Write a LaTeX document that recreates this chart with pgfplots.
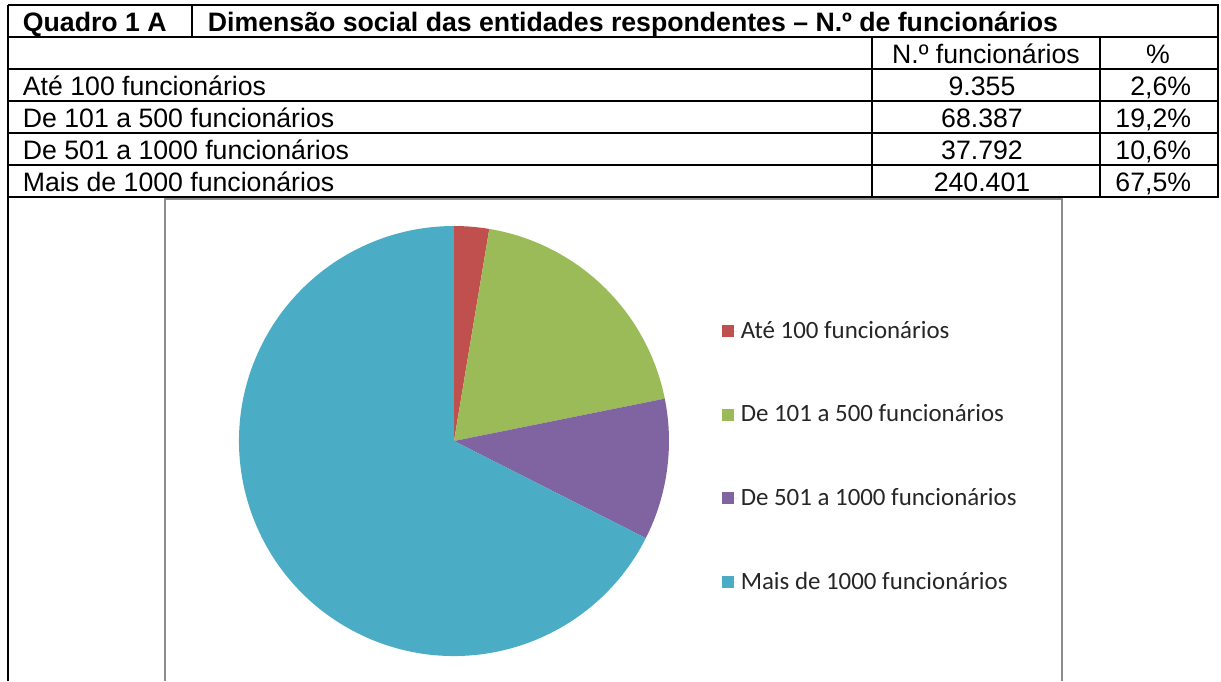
\documentclass[border=0pt]{standalone}
\usepackage{fontspec}
\setmainfont{Liberation Sans}
\newfontfamily\carlito{Carlito}
\usepackage{pgfplots}
\pgfplotsset{compat=1.18}
\definecolor{cRed}{HTML}{C0504D}
\definecolor{cGreen}{HTML}{9BBB59}
\definecolor{cPurple}{HTML}{8064A2}
\definecolor{cBlue}{HTML}{4BACC6}
\definecolor{frameGray}{HTML}{8C8C8C}
% counts in thousands (9.355 = 9355 funcionarios)
\def\vA{9.355}
\def\vB{68.387}
\def\vC{37.792}
\def\vD{240.401}
\pgfmathsetmacro{\tot}{\vA+\vB+\vC+\vD}
\pgfmathsetmacro{\aA}{90}
\pgfmathsetmacro{\aB}{\aA-\vA/\tot*360}
\pgfmathsetmacro{\aC}{\aB-\vB/\tot*360}
\pgfmathsetmacro{\aD}{\aC-\vC/\tot*360}
\pgfmathsetmacro{\aE}{\aD-\vD/\tot*360}
\begin{document}
\begin{tikzpicture}
\useasboundingbox (0,0) rectangle (549.45pt,-306.45pt);
\begin{scope}[x=0.45pt,y=-0.45pt,line width=0.85pt]
% chart frame
\draw[frameGray,line width=0.9pt] (165,681) -- (165,198.5) -- (1062,198.5) -- (1062,681);
% table lines
\draw (8,5) -- (1218.5,5);
\foreach \yy in {37,69,101,133,165,197} \draw (8,\yy) -- (1218.5,\yy);
\draw (8,5) -- (8,681);
\draw (1218,5) -- (1218,197);
\draw (192,5) -- (192,37);
\draw (872,37) -- (872,197);
\draw (1100,37) -- (1100,197);
% texts
\begin{scope}[every node/.style={inner sep=0pt,font=\fontsize{12}{14}\selectfont}]
\node[anchor=base west,font=\fontsize{12}{14}\selectfont\bfseries] at (22,31) {Quadro 1 A};
\node[anchor=base west,font=\fontsize{12}{14}\selectfont\bfseries] at (207,31) {Dimensão social das entidades respondentes – N.º de funcionários};
\node[anchor=base] at (986,63) {N.º funcionários};
\node[anchor=base] at (1158,63) {\%};
\node[anchor=base west] at (22,95) {Até 100 funcionários};
\node[anchor=base west] at (22,127) {De 101 a 500 funcionários};
\node[anchor=base west] at (22,159) {De 501 a 1000 funcionários};
\node[anchor=base west] at (22,191) {Mais de 1000 funcionários};
\node[anchor=base] at (982,95) {9.355};
\node[anchor=base] at (982,127) {68.387};
\node[anchor=base] at (982,159) {37.792};
\node[anchor=base] at (982,191) {240.401};
\node[anchor=base east] at (1192,95) {2,6\%};
\node[anchor=base east] at (1192,127) {19,2\%};
\node[anchor=base east] at (1192,159) {10,6\%};
\node[anchor=base east] at (1192,191) {67,5\%};
\end{scope}
\end{scope}
\begin{axis}[
  at={(204.3pt,-198.45pt)}, anchor=center,
  scale only axis, width=193.5pt, height=193.5pt,
  xmin=-1, xmax=1, ymin=-1, ymax=1,
  hide axis, clip=false,
  legend image code/.code={\fill[#1] (0pt,-2.7pt) rectangle (5.4pt,2.7pt); \path (0pt,0pt) -- (6.8pt,0pt);},
  legend style={at={(1.123,0.785)}, anchor=north west, draw=none, fill=none,
    inner sep=0pt, row sep=26.4pt,
    font=\carlito\fontsize{11.2}{13}\selectfont, text=black!85,
    nodes={inner xsep=1.5pt, inner ysep=1pt}},
  legend cell align=left,
]
\addplot[fill=cRed, draw=none] coordinates {(0,0)} -- ({cos(\aA)},{sin(\aA)}) arc[start angle=\aA, end angle=\aB, radius=1] -- cycle;
\addlegendentry{Até 100 funcionários}
\addplot[fill=cGreen, draw=none] coordinates {(0,0)} -- ({cos(\aB)},{sin(\aB)}) arc[start angle=\aB, end angle=\aC, radius=1] -- cycle;
\addlegendentry{De 101 a 500 funcionários}
\addplot[fill=cPurple, draw=none] coordinates {(0,0)} -- ({cos(\aC)},{sin(\aC)}) arc[start angle=\aC, end angle=\aD, radius=1] -- cycle;
\addlegendentry{De 501 a 1000 funcionários}
\addplot[fill=cBlue, draw=none] coordinates {(0,0)} -- ({cos(\aD)},{sin(\aD)}) arc[start angle=\aD, end angle=\aE, radius=1] -- cycle;
\addlegendentry{Mais de 1000 funcionários}
\end{axis}
\end{tikzpicture}
\end{document}
